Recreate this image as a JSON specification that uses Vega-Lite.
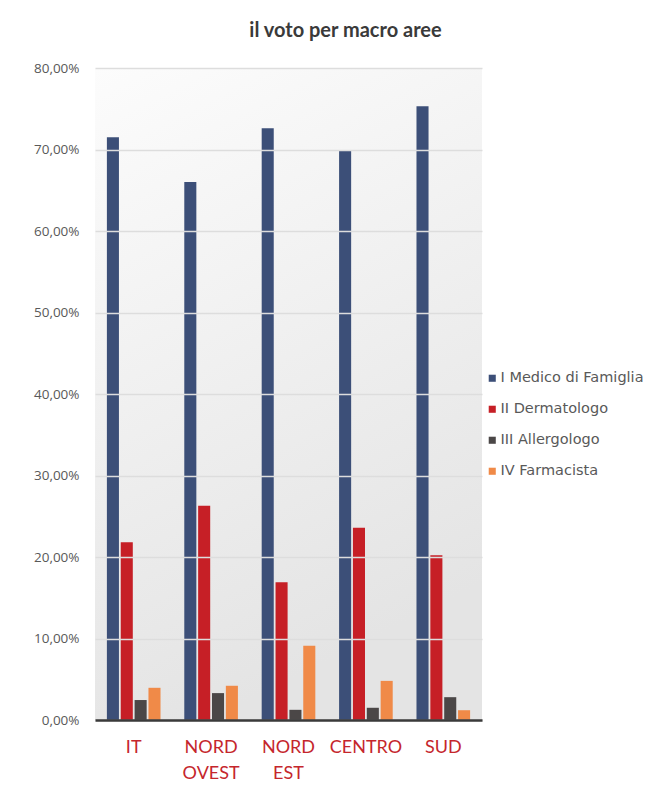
{
  "$schema": "https://vega.github.io/schema/vega-lite/v6.json",
  "width": 387,
  "height": 652,
  "autosize": {"type": "none"},
  "padding": {"left": 95, "top": 68, "right": 186, "bottom": 76},
  "background": "#ffffff",
  "title": {
    "text": "il voto per macro aree",
    "font": "Lato",
    "fontSize": 20,
    "fontWeight": "bold",
    "color": "#3a3a3a",
    "anchor": "middle",
    "dx": 57,
    "offset": 20
  },
  "config": {
    "view": {"stroke": null, "fill": {"gradient": "linear", "x1": 0, "y1": 0, "x2": 0.3, "y2": 1, "stops": [{"offset": 0, "color": "#fcfcfc"}, {"offset": 1, "color": "#e4e4e4"}]}},
    "font": "Lato"
  },
  "data": {
    "values": [
      {"area": "IT", "serie": "I Medico di Famiglia", "valore": 71.5},
      {"area": "IT", "serie": "II Dermatologo", "valore": 21.8},
      {"area": "IT", "serie": "III Allergologo", "valore": 2.45},
      {"area": "IT", "serie": "IV Farmacista", "valore": 3.95},
      {"area": "NORD OVEST", "serie": "I Medico di Famiglia", "valore": 66.0},
      {"area": "NORD OVEST", "serie": "II Dermatologo", "valore": 26.3},
      {"area": "NORD OVEST", "serie": "III Allergologo", "valore": 3.3},
      {"area": "NORD OVEST", "serie": "IV Farmacista", "valore": 4.2},
      {"area": "NORD EST", "serie": "I Medico di Famiglia", "valore": 72.6},
      {"area": "NORD EST", "serie": "II Dermatologo", "valore": 16.9},
      {"area": "NORD EST", "serie": "III Allergologo", "valore": 1.25},
      {"area": "NORD EST", "serie": "IV Farmacista", "valore": 9.1},
      {"area": "CENTRO", "serie": "I Medico di Famiglia", "valore": 69.9},
      {"area": "CENTRO", "serie": "II Dermatologo", "valore": 23.6},
      {"area": "CENTRO", "serie": "III Allergologo", "valore": 1.5},
      {"area": "CENTRO", "serie": "IV Farmacista", "valore": 4.8},
      {"area": "SUD", "serie": "I Medico di Famiglia", "valore": 75.3},
      {"area": "SUD", "serie": "II Dermatologo", "valore": 20.2},
      {"area": "SUD", "serie": "III Allergologo", "valore": 2.8},
      {"area": "SUD", "serie": "IV Farmacista", "valore": 1.2}
    ]
  },
  "mark": {"type": "bar"},
  "encoding": {
    "x": {
      "field": "area",
      "type": "nominal",
      "sort": ["IT", "NORD OVEST", "NORD EST", "CENTRO", "SUD"],
      "scale": {"paddingInner": 0.3, "paddingOuter": 0.15},
      "axis": {
        "title": null,
        "labelAngle": 0,
        "labelExpr": "split(datum.label, ' ')",
        "labelFontSize": 18,
        "labelColor": "#c5262c",
        "labelLineHeight": 26,
        "labelPadding": 18,
        "ticks": false,
        "domainColor": "#3a3a3a",
        "domainWidth": 2.5,
        "zindex": 2
      }
    },
    "xOffset": {
      "field": "serie",
      "type": "nominal",
      "scale": {"paddingInner": 0.13, "paddingOuter": 0.02}
    },
    "y": {
      "field": "valore",
      "type": "quantitative",
      "scale": {"domain": [0, 80], "nice": false},
      "axis": {
        "title": null,
        "values": [0, 10, 20, 30, 40, 50, 60, 70, 80],
        "labelExpr": "replace(format(datum.value, '.2f'), '.', ',') + '%'",
        "labelFont": "Open Sans",
        "labelFontSize": 13.5,
        "labelColor": "#595959",
        "labelPadding": 16,
        "ticks": false,
        "domain": false,
        "grid": true,
        "gridWidth": 1.5,
        "zindex": 1,
        "encode": {
          "grid": {
            "update": {
              "stroke": {"signal": "datum.value == 10 ? '#7f7f7f' : datum.value == 20 ? '#9c9c9c' : datum.value == 30 ? '#b4b4b4' : datum.value == 40 ? '#c4c4c4' : datum.value == 50 ? '#cfcfcf' : datum.value == 60 ? '#d8d8d8' : '#e0e0e0'"},
              "strokeOpacity": {"value": 0.85}
            }
          }
        }
      }
    },
    "color": {
      "field": "serie",
      "type": "nominal",
      "scale": {
        "domain": ["I Medico di Famiglia", "II Dermatologo", "III Allergologo", "IV Farmacista"],
        "range": ["#3c4f78", "#c61f26", "#4b4747", "#f08a48"]
      },
      "legend": {
        "title": null,
        "orient": "none",
        "legendX": 390,
        "legendY": 303,
        "symbolType": "square",
        "symbolSize": 50,
        "symbolStrokeWidth": 0,
        "labelFont": "DejaVu Sans",
        "labelFontSize": 14.5,
        "labelColor": "#595959",
        "labelOffset": 1,
        "rowPadding": 16
      }
    }
  }
}
